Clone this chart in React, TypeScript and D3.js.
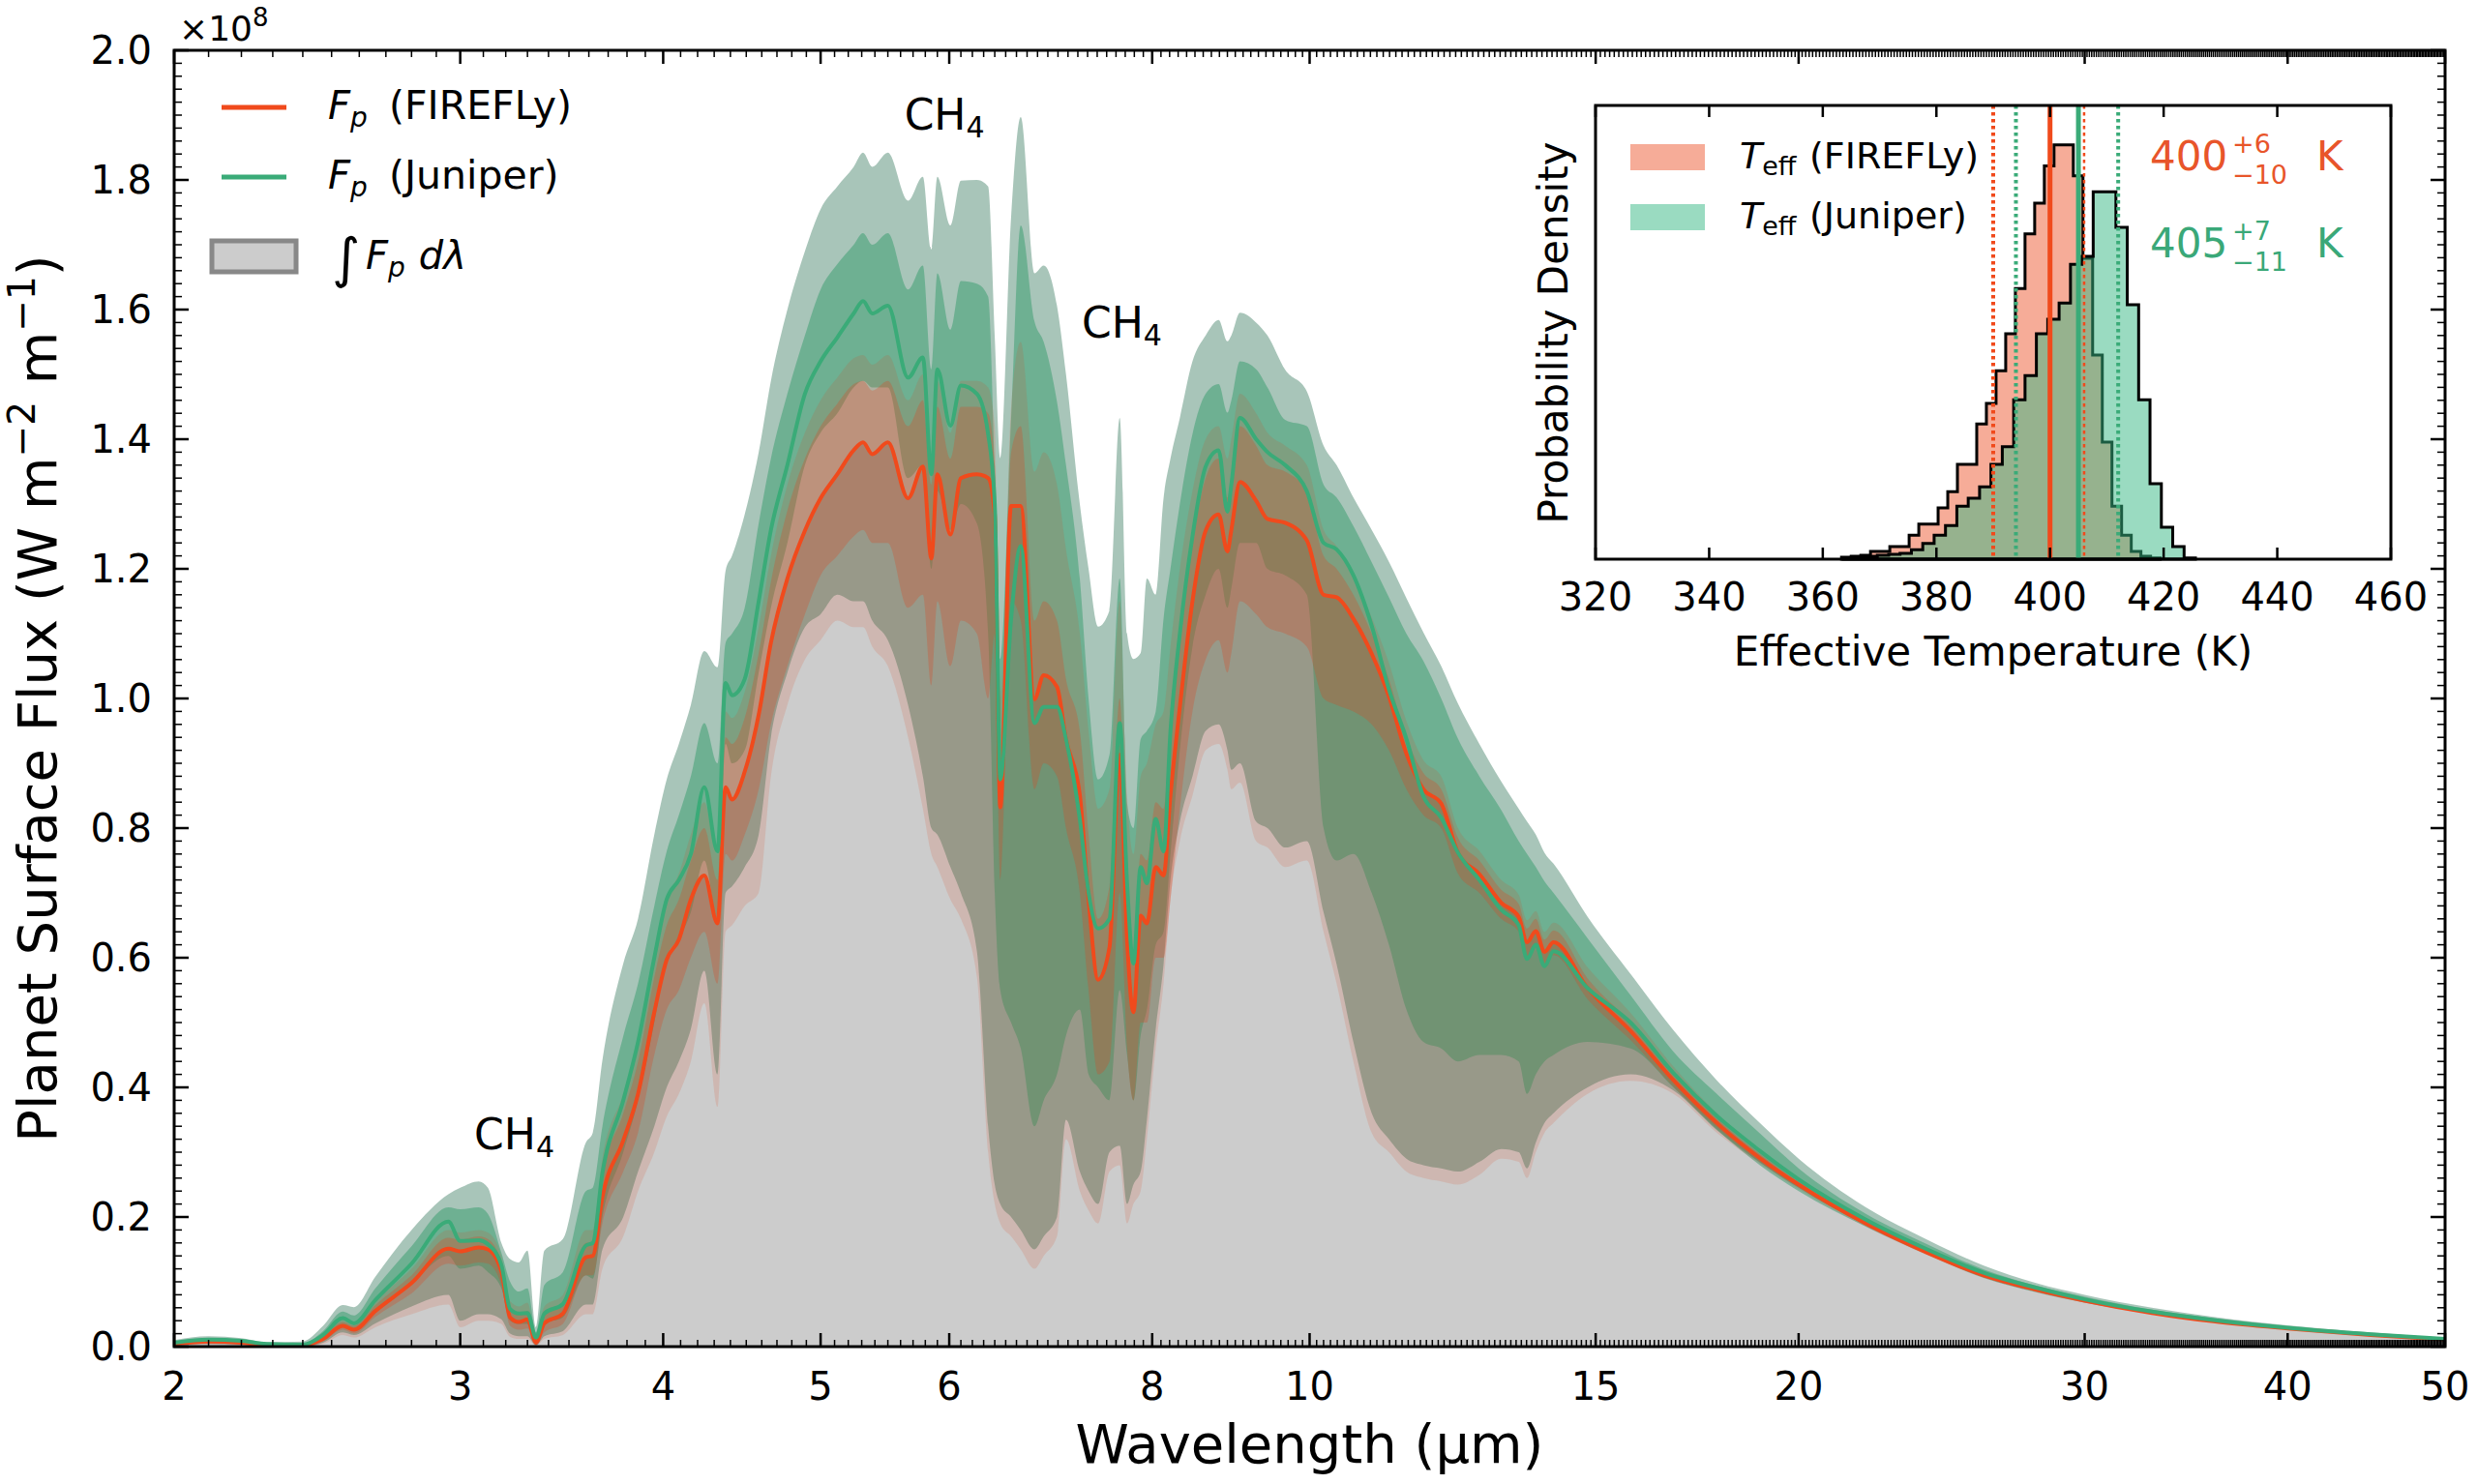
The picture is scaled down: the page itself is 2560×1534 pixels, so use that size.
import React, { useEffect } from "react";
import * as d3 from "d3";

// ---------- spectral data (flux in units of 1e8 W m^-2 m^-1) ----------
const wavelength = [
  2.0, 2.1, 2.2, 2.28, 2.4, 2.47, 2.54, 2.58, 2.66, 2.8,
  2.95, 3.0, 3.08, 3.12, 3.18, 3.22, 3.26, 3.3, 3.34, 3.38,
  3.47, 3.585, 3.62, 3.67, 3.78, 3.86, 3.95, 4.02, 4.09, 4.16,
  4.24, 4.32, 4.37, 4.41, 4.49, 4.58, 4.66, 4.77, 4.89, 5.0,
  5.12, 5.24, 5.31, 5.38, 5.5, 5.66, 5.78, 5.85, 5.9, 6.01,
  6.1, 6.24, 6.34, 6.4, 6.45, 6.55, 6.64, 6.77, 6.86, 6.99,
  7.08, 7.22, 7.31, 7.41, 7.53, 7.64, 7.72, 7.79, 7.87, 7.94,
  8.04, 8.13, 8.21, 8.32, 8.47, 8.63, 8.79, 8.9, 8.95, 9.06,
  9.27, 9.42, 9.66, 9.96, 10.2, 10.39, 10.64, 10.92, 11.19, 11.47,
  11.75, 12.05, 12.34, 12.72, 13.12, 13.45, 13.61, 13.78, 13.95, 14.13,
  14.83, 15.76, 16.75, 17.81, 18.93, 20, 22, 24, 26, 28,
  30, 33, 36, 40, 45, 50,
];

const fireflyMedian = [
  0.004, 0.008, 0.006, 0.002, 0.002, 0.012, 0.032, 0.026, 0.055, 0.098,
  0.151, 0.147, 0.153, 0.15, 0.116, 0.045, 0.038, 0.042, 0.006, 0.036,
  0.051, 0.138, 0.14, 0.231, 0.318, 0.39, 0.516, 0.597, 0.628, 0.69,
  0.727, 0.653, 0.863, 0.844, 0.887, 0.975, 1.086, 1.185, 1.259, 1.309,
  1.346, 1.383, 1.395, 1.377, 1.395, 1.309, 1.358, 1.216, 1.346, 1.253,
  1.34, 1.346, 1.34, 1.284, 0.832, 1.297, 1.297, 0.999, 1.036, 1.018,
  0.937, 0.851, 0.69, 0.566, 0.616, 0.913, 0.628, 0.516, 0.665, 0.653,
  0.74, 0.727, 0.851, 0.987, 1.15, 1.259, 1.284, 1.227, 1.26, 1.334,
  1.305, 1.277, 1.271, 1.244, 1.16, 1.156, 1.123, 1.069, 1.003, 0.915,
  0.86, 0.838, 0.762, 0.729, 0.685, 0.663, 0.624, 0.641, 0.609, 0.624,
  0.553, 0.487, 0.411, 0.345, 0.291, 0.25, 0.19, 0.145, 0.11, 0.088,
  0.071, 0.052, 0.039, 0.028, 0.018, 0.011,
];

const juniperMedian = [
  0.006, 0.011, 0.009, 0.004, 0.003, 0.018, 0.044, 0.036, 0.072, 0.128,
  0.193, 0.163, 0.164, 0.158, 0.126, 0.058, 0.051, 0.052, 0.014, 0.051,
  0.066, 0.156, 0.16, 0.268, 0.38, 0.47, 0.6, 0.69, 0.72, 0.76,
  0.863, 0.764, 1.024, 1.005, 1.03, 1.15, 1.26, 1.36, 1.47, 1.52,
  1.557, 1.594, 1.613, 1.594, 1.606, 1.495, 1.526, 1.346, 1.508, 1.421,
  1.483, 1.47, 1.408, 1.3, 0.875, 1.123, 1.235, 0.962, 0.987, 0.987,
  0.937, 0.814, 0.7, 0.645, 0.66, 0.962, 0.715, 0.591, 0.74, 0.715,
  0.814, 0.764, 0.95, 1.1, 1.25, 1.358, 1.383, 1.288, 1.33, 1.433,
  1.4, 1.38, 1.36, 1.32, 1.24, 1.23, 1.19, 1.112, 1.014, 0.938,
  0.849, 0.816, 0.762, 0.72, 0.674, 0.65, 0.598, 0.62, 0.587, 0.61,
  0.553, 0.5, 0.422, 0.356, 0.302, 0.258, 0.196, 0.15, 0.114, 0.091,
  0.073, 0.054, 0.041, 0.029, 0.019, 0.012,
];

// Juniper 2-sigma (outer) and 1-sigma (inner) envelopes
const juniperOuterHi = [
  0.01, 0.016, 0.013, 0.007, 0.008, 0.032, 0.064, 0.061, 0.108, 0.18,
  0.235, 0.245, 0.255, 0.245, 0.16, 0.135, 0.13, 0.148, 0.03, 0.148,
  0.166, 0.315, 0.33, 0.442, 0.591, 0.66, 0.79, 0.875, 0.93, 0.99,
  1.073, 1.048, 1.197, 1.22, 1.284, 1.38, 1.49, 1.6, 1.69, 1.755,
  1.79, 1.82, 1.842, 1.82, 1.842, 1.768, 1.805, 1.693, 1.805, 1.73,
  1.799, 1.8, 1.79, 1.557, 1.371, 1.743, 1.897, 1.656, 1.668, 1.606,
  1.5, 1.3, 1.2, 1.111, 1.136, 1.433, 1.1, 1.061, 1.07, 1.185,
  1.16, 1.309, 1.37, 1.433, 1.52, 1.56, 1.584, 1.551, 1.56, 1.595,
  1.58, 1.56, 1.507, 1.474, 1.39, 1.36, 1.31, 1.26, 1.211, 1.155,
  1.102, 1.05, 0.992, 0.93, 0.872, 0.83, 0.81, 0.79, 0.762, 0.745,
  0.663, 0.575, 0.488, 0.411, 0.345, 0.29, 0.215, 0.165, 0.125, 0.098,
  0.08, 0.06, 0.046, 0.033, 0.022, 0.013,
];

const juniperInnerHi = [
  0.008, 0.013, 0.011, 0.005, 0.005, 0.024, 0.054, 0.048, 0.09, 0.155,
  0.215, 0.212, 0.215, 0.205, 0.145, 0.1, 0.085, 0.09, 0.022, 0.095,
  0.115, 0.24, 0.245, 0.34, 0.479, 0.56, 0.68, 0.764, 0.82, 0.88,
  0.962, 0.9, 1.086, 1.1, 1.14, 1.27, 1.37, 1.47, 1.56, 1.631,
  1.67, 1.7, 1.718, 1.7, 1.718, 1.631, 1.668, 1.508, 1.656, 1.569,
  1.644, 1.64, 1.62, 1.359, 1.061, 1.433, 1.73, 1.582, 1.55, 1.458,
  1.36, 1.185, 1.0, 0.875, 0.913, 1.185, 0.838, 0.8, 0.937, 0.95,
  0.98, 1.123, 1.2, 1.3, 1.408, 1.47, 1.485, 1.441, 1.46, 1.52,
  1.508, 1.48, 1.43, 1.42, 1.33, 1.31, 1.266, 1.21, 1.156, 1.1,
  1.058, 1.0, 0.938, 0.88, 0.828, 0.78, 0.76, 0.74, 0.718, 0.7,
  0.63, 0.542, 0.455, 0.39, 0.329, 0.275, 0.205, 0.158, 0.119, 0.094,
  0.077, 0.057, 0.044, 0.031, 0.02, 0.0125,
];

const juniperInnerLo = [
  0.004, 0.008, 0.006, 0.002, 0.001, 0.012, 0.034, 0.028, 0.055, 0.098,
  0.14, 0.12, 0.125, 0.115, 0.09, 0.04, 0.035, 0.035, 0.006, 0.035,
  0.045, 0.11, 0.105, 0.2, 0.3, 0.38, 0.5, 0.6, 0.63, 0.67,
  0.75, 0.66, 0.93, 0.9, 0.92, 1.04, 1.14, 1.24, 1.36, 1.41,
  1.44, 1.48, 1.49, 1.48, 1.48, 1.34, 1.36, 1.2, 1.32, 1.26,
  1.3, 1.27, 1.1, 0.7, 0.55, 0.5, 0.46, 0.34, 0.38, 0.42,
  0.48, 0.52, 0.42, 0.4, 0.38, 0.55, 0.45, 0.38, 0.48, 0.52,
  0.62, 0.64, 0.76, 0.92, 1.08, 1.16, 1.2, 1.14, 1.17, 1.24,
  1.24, 1.2, 1.19, 1.16, 0.8, 0.75, 0.76, 0.7, 0.62, 0.52,
  0.47, 0.46, 0.44, 0.45, 0.45, 0.44, 0.39, 0.42, 0.44, 0.45,
  0.47, 0.46, 0.4, 0.335, 0.28, 0.24, 0.185, 0.142, 0.106, 0.084,
  0.068, 0.051, 0.039, 0.027, 0.017, 0.01,
];

const juniperOuterLo = [
  0.002, 0.004, 0.003, 0.001, 0.0, 0.006, 0.022, 0.018, 0.036, 0.062,
  0.08, 0.04, 0.05, 0.05, 0.042, 0.02, 0.016, 0.016, 0.002, 0.016,
  0.024, 0.065, 0.065, 0.15, 0.2, 0.27, 0.34, 0.4, 0.44, 0.49,
  0.58, 0.42, 0.7, 0.71, 0.74, 0.79, 0.94, 1.04, 1.11, 1.13,
  1.16, 1.15, 1.15, 1.12, 1.09, 0.99, 0.88, 0.8, 0.79, 0.74,
  0.7, 0.61, 0.34, 0.25, 0.22, 0.2, 0.18, 0.15, 0.17, 0.2,
  0.35, 0.27, 0.24, 0.22, 0.3, 0.31, 0.22, 0.25, 0.27, 0.35,
  0.49, 0.59, 0.72, 0.81, 0.88, 0.95, 0.96, 0.92, 0.89, 0.9,
  0.81, 0.8, 0.77, 0.78, 0.67, 0.59, 0.47, 0.36, 0.32, 0.29,
  0.28, 0.275, 0.27, 0.285, 0.305, 0.3, 0.275, 0.315, 0.345, 0.36,
  0.4, 0.42, 0.395, 0.334, 0.284, 0.245, 0.187, 0.143, 0.107, 0.085,
  0.069, 0.051, 0.039, 0.028, 0.018, 0.011,
];

// FIREFLy 1-sigma (inner) and 2-sigma (outer) envelopes
const fireflyInnerHi = [
  0.005, 0.01, 0.008, 0.003, 0.003, 0.016, 0.038, 0.032, 0.064, 0.11,
  0.168, 0.165, 0.17, 0.166, 0.13, 0.058, 0.05, 0.055, 0.012, 0.05,
  0.068, 0.16, 0.162, 0.265, 0.36, 0.44, 0.57, 0.65, 0.69, 0.75,
  0.8, 0.72, 0.94, 0.93, 0.97, 1.07, 1.18, 1.29, 1.37, 1.42,
  1.455, 1.485, 1.49, 1.475, 1.49, 1.42, 1.46, 1.33, 1.45, 1.37,
  1.45, 1.45, 1.44, 1.36, 0.93, 1.38, 1.42, 1.12, 1.15, 1.12,
  1.03, 0.95, 0.79, 0.66, 0.71, 1.0, 0.72, 0.61, 0.76, 0.75,
  0.84, 0.83, 0.95, 1.08, 1.24, 1.34, 1.37, 1.31, 1.34, 1.42,
  1.39, 1.36, 1.35, 1.32, 1.22, 1.2, 1.16, 1.1, 1.03, 0.94,
  0.885, 0.86, 0.785, 0.75, 0.705, 0.683, 0.645, 0.66, 0.628, 0.642,
  0.568, 0.5, 0.421, 0.352, 0.297, 0.254, 0.193, 0.147, 0.112, 0.089,
  0.072, 0.053, 0.04, 0.029, 0.019, 0.0115,
];

const fireflyInnerLo = [
  0.003, 0.006, 0.004, 0.001, 0.001, 0.008, 0.026, 0.02, 0.046, 0.082,
  0.128, 0.125, 0.13, 0.128, 0.095, 0.032, 0.026, 0.028, 0.003, 0.022,
  0.035, 0.11, 0.11, 0.19, 0.27, 0.33, 0.45, 0.52, 0.55, 0.6,
  0.64, 0.56, 0.76, 0.75, 0.79, 0.86, 0.96, 1.05, 1.13, 1.19,
  1.22, 1.25, 1.26, 1.24, 1.24, 1.14, 1.16, 1.02, 1.15, 1.05,
  1.12, 1.1, 1.0, 1.1, 0.72, 1.15, 1.12, 0.86, 0.9, 0.88,
  0.8, 0.7, 0.55, 0.42, 0.44, 0.7, 0.46, 0.38, 0.5, 0.5,
  0.6, 0.6, 0.69, 0.83, 0.98, 1.06, 1.09, 1.04, 1.07, 1.15,
  1.13, 1.11, 1.1, 1.08, 1.0, 0.99, 0.98, 0.96, 0.92, 0.86,
  0.82, 0.8, 0.73, 0.7, 0.66, 0.64, 0.6, 0.618, 0.588, 0.604,
  0.536, 0.473, 0.401, 0.338, 0.285, 0.246, 0.187, 0.143, 0.108, 0.087,
  0.07, 0.051, 0.038, 0.027, 0.017, 0.0105,
];

const fireflyOuterHi = [
  0.006, 0.011, 0.009, 0.004, 0.004, 0.019, 0.042, 0.036, 0.07, 0.12,
  0.18, 0.176, 0.18, 0.176, 0.14, 0.07, 0.062, 0.068, 0.016, 0.062,
  0.08, 0.18, 0.18, 0.29, 0.39, 0.47, 0.6, 0.69, 0.73, 0.79,
  0.84, 0.76, 0.98, 0.97, 1.01, 1.11, 1.22, 1.33, 1.41, 1.46,
  1.495, 1.525, 1.53, 1.515, 1.53, 1.46, 1.5, 1.37, 1.49, 1.41,
  1.49, 1.49, 1.48, 1.42, 1.0, 1.45, 1.55, 1.35, 1.38, 1.33,
  1.23, 1.1, 0.95, 0.83, 0.86, 1.15, 0.85, 0.76, 0.88, 0.9,
  0.96, 0.98, 1.08, 1.2, 1.32, 1.4, 1.42, 1.37, 1.4, 1.47,
  1.44, 1.41, 1.39, 1.36, 1.26, 1.235, 1.19, 1.125, 1.055, 0.965,
  0.905, 0.88, 0.8, 0.765, 0.72, 0.697, 0.658, 0.672, 0.64, 0.654,
  0.585, 0.515, 0.432, 0.36, 0.303, 0.259, 0.197, 0.15, 0.114, 0.091,
  0.073, 0.054, 0.041, 0.03, 0.019, 0.012,
];

const fireflyOuterLo = [
  0.001, 0.003, 0.002, 0.0, 0.0, 0.004, 0.018, 0.014, 0.03, 0.05,
  0.065, 0.03, 0.04, 0.04, 0.035, 0.015, 0.012, 0.012, 0.001, 0.012,
  0.018, 0.05, 0.05, 0.12, 0.17, 0.24, 0.3, 0.355, 0.39, 0.44,
  0.53, 0.37, 0.64, 0.65, 0.68, 0.7, 0.88, 0.99, 1.06, 1.09,
  1.12, 1.11, 1.11, 1.08, 1.05, 0.94, 0.83, 0.76, 0.74, 0.69,
  0.66, 0.57, 0.3, 0.22, 0.19, 0.17, 0.15, 0.12, 0.14, 0.17,
  0.32, 0.24, 0.21, 0.19, 0.27, 0.28, 0.19, 0.22, 0.24, 0.32,
  0.46, 0.56, 0.69, 0.78, 0.85, 0.92, 0.93, 0.89, 0.86, 0.87,
  0.78, 0.77, 0.74, 0.75, 0.64, 0.56, 0.44, 0.33, 0.3, 0.27,
  0.26, 0.255, 0.25, 0.265, 0.29, 0.285, 0.26, 0.3, 0.33, 0.345,
  0.39, 0.41, 0.39, 0.33, 0.282, 0.243, 0.185, 0.141, 0.106, 0.084,
  0.068, 0.05, 0.038, 0.027, 0.017, 0.01,
];

const xMajorTicks = [2, 3, 4, 5, 6, 8, 10, 15, 20, 30, 40, 50];
const yMajorTicks = [0, 0.2, 0.4, 0.6, 0.8, 1.0, 1.2, 1.4, 1.6, 1.8, 2.0];

// CH4 absorption labels (wavelength, flux of the text baseline)
const ch4Labels = [
  { wl: 3.06, v: 0.305 },
  { wl: 5.63, v: 1.878 },
  { wl: 7.24, v: 1.557 },
];

// ---------- effective temperature posteriors (probability density x 1e-3) ----------
const fireflyBinEdges = [
  363.3, 365.0, 366.7, 368.4, 370.1, 371.8, 373.5, 375.2, 376.9, 378.6,
  380.3, 382.0, 383.7, 385.4, 387.1, 388.8, 390.5, 392.2, 393.9, 395.6,
  397.3, 399.0, 400.7, 402.4, 404.1, 405.8, 407.5, 409.2, 410.9, 412.6,
  414.3, 416.0, 417.7, 419.4,
];
const fireflyDensity = [
  0.26, 0.39, 0.52, 1.03, 1.03, 1.68, 1.68, 3.19, 4.68, 4.68,
  6.84, 8.99, 12.65, 12.65, 18.03, 20.77, 25.12, 30.06, 36.09, 43.39,
  47.48, 52.43, 55.23, 55.23, 51.1, 40.13, 27.23, 15.61, 7.06, 3.19,
  1.03, 0.39, 0.17,
];
const juniperBinEdges = [
  363.6, 365.6, 367.6, 369.6, 371.6, 373.6, 375.6, 377.6, 379.6, 381.6,
  383.6, 385.6, 387.6, 389.6, 391.6, 393.6, 395.6, 397.6, 399.6, 401.6,
  403.6, 405.6, 407.6, 409.6, 411.6, 413.6, 415.6, 417.6, 419.6, 421.6,
  423.6, 425.6,
];
const juniperDensity = [
  0.13, 0.26, 0.39, 0.52, 0.65, 0.77, 1.25, 2.1, 3.19, 4.48,
  7.06, 8.13, 9.64, 12.65, 15.0, 21.25, 24.48, 30.06, 32.0, 34.15,
  39.32, 40.39, 48.99, 48.99, 44.26, 33.94, 21.25, 10.06, 4.26, 1.68,
  0.17,
];
const tempTicks = [320, 340, 360, 380, 400, 420, 440, 460];

const fireflyTeff = { median: 400, plus: 6, minus: 10 };
const juniperTeff = { median: 405, plus: 7, minus: 11 };

// ---------- colours ----------
const FIRE = "#f04a1c";
const JUNI = "#3aab78";
const JUNI_OUTER = "#3e7e63";
const JUNI_INNER = "#289664";
const FIRE_BAND = "#e0461c";
const FIRE_HIST = "#ee5a32";
const JUNI_HIST = "#35b884";
const FIRE_TEXT = "#e8552a";
const JUNI_TEXT = "#3aa878";
const FONT = "DejaVu Sans";

export default function App() {
  useEffect(() => {
    document.body.style.margin = "0";
  }, []);

  const W = 2560;
  const H = 1534;
  const L = 180;
  const R = 2527;
  const T = 52;
  const B = 1392;

  const x = d3.scaleLog().domain([2, 50]).range([L, R]);
  const y = d3.scaleLinear().domain([0, 2]).range([B, T]);
  const idx = wavelength.map((_, i) => i);

  const band = (lo: number[], hi: number[]) =>
    d3
      .area<number>()
      .x((i) => x(wavelength[i]))
      .y0((i) => y(lo[i]))
      .y1((i) => y(hi[i]))
      .curve(d3.curveMonotoneX)(idx) || "";
  const line = (v: number[]) =>
    d3
      .line<number>()
      .x((i) => x(wavelength[i]))
      .y((i) => y(v[i]))
      .curve(d3.curveMonotoneX)(idx) || "";
  const integratedArea =
    d3
      .area<number>()
      .x((i) => x(wavelength[i]))
      .y0(y(0))
      .y1((i) => y(fireflyMedian[i]))
      .curve(d3.curveMonotoneX)(idx) || "";

  const xMinor = d3
    .range(21, 500)
    .map((k) => k / 10)
    .filter((v) => !xMajorTicks.includes(v));
  const yMinor = d3
    .range(0, 101)
    .filter((k) => k % 10 !== 0)
    .map((k) => k * 0.02);

  // inset geometry
  const IL = 1649;
  const IR = 2471;
  const IT = 109;
  const IB = 578;
  const tx = d3.scaleLinear().domain([320, 460]).range([IL, IR]);
  const ty = d3.scaleLinear().domain([0, 60.5]).range([IB, IT]);
  const stepPath = (edges: number[], dens: number[]) => {
    let p = `M${tx(edges[0])},${ty(0)}`;
    dens.forEach((d, i) => {
      p += `L${tx(edges[i])},${ty(d)}L${tx(edges[i + 1])},${ty(d)}`;
    });
    p += `L${tx(edges[edges.length - 1])},${ty(0)}Z`;
    return p;
  };

  const vline = (t: number, color: string, width: number, dash?: string, key?: string) => (
    <line
      key={key}
      x1={tx(t)}
      x2={tx(t)}
      y1={IT}
      y2={IB}
      stroke={color}
      strokeWidth={width}
      strokeDasharray={dash}
    />
  );

  return (
    <svg
      width={W}
      height={H}
      viewBox={`0 0 ${W} ${H}`}
      style={{ position: "absolute", left: 0, top: 0, background: "#fff" }}
      fontFamily={FONT}
    >
      <defs>
        <clipPath id="plot-clip">
          <rect x={L} y={T} width={R - L} height={B - T} />
        </clipPath>
      </defs>
      <rect x={0} y={0} width={W} height={H} fill="#fff" />

      {/* spectra */}
      <g clipPath="url(#plot-clip)">
        <path d={integratedArea} fill="#cccccc" />
        <path d={band(juniperOuterLo, juniperOuterHi)} fill={JUNI_OUTER} fillOpacity={0.45} />
        <path d={band(juniperInnerLo, juniperInnerHi)} fill={JUNI_INNER} fillOpacity={0.45} />
        <path d={band(fireflyOuterLo, fireflyOuterHi)} fill={FIRE_BAND} fillOpacity={0.15} />
        <path d={band(fireflyInnerLo, fireflyInnerHi)} fill={FIRE_BAND} fillOpacity={0.28} />
        <path d={line(fireflyMedian)} fill="none" stroke={FIRE} strokeWidth={4} strokeLinejoin="round" />
        <path d={line(juniperMedian)} fill="none" stroke={JUNI} strokeWidth={4} strokeLinejoin="round" />
      </g>

      {/* CH4 labels */}
      {ch4Labels.map((c, i) => (
        <text key={i} x={x(c.wl)} y={y(c.v)} fontSize={44} fill="#000">
          CH
          <tspan fontSize={30} dy={8}>
            4
          </tspan>
        </text>
      ))}

      {/* legend */}
      <g>
        <line x1={229} x2={296} y1={111} y2={111} stroke={FIRE} strokeWidth={5} />
        <text x={339} y={123} fontSize={40}>
          <tspan fontStyle="italic">F</tspan>
          <tspan fontStyle="italic" fontSize={28} dy={8}>
            p
          </tspan>
        </text>
        <text x={402} y={123} fontSize={41}>
          (FIREFLy)
        </text>
        <line x1={229} x2={296} y1={183} y2={183} stroke={JUNI} strokeWidth={5} />
        <text x={339} y={195} fontSize={40}>
          <tspan fontStyle="italic">F</tspan>
          <tspan fontStyle="italic" fontSize={28} dy={8}>
            p
          </tspan>
        </text>
        <text x={402} y={195} fontSize={41}>
          (Juniper)
        </text>
        <rect x={219} y={249} width={87} height={32} fill="#cccccc" stroke="#888888" strokeWidth={5} />
        <text x={343} y={286} fontSize={56}>
          ∫
        </text>
        <text x={378} y={278} fontSize={40}>
          <tspan fontStyle="italic">F</tspan>
          <tspan fontStyle="italic" fontSize={28} dy={8}>
            p
          </tspan>
          <tspan fontStyle="italic" dy={-8} dx={14}>
            dλ
          </tspan>
        </text>
      </g>

      {/* inset: effective temperature posteriors */}
      <g>
        <rect x={IL} y={IT} width={IR - IL} height={IB - IT} fill="#fff" />
        <path d={stepPath(fireflyBinEdges, fireflyDensity)} fill={FIRE_HIST} fillOpacity={0.5} stroke="none" />
        <path d={stepPath(fireflyBinEdges, fireflyDensity)} fill="none" stroke="#000" strokeWidth={3} />
        <path d={stepPath(juniperBinEdges, juniperDensity)} fill={JUNI_HIST} fillOpacity={0.5} stroke="none" />
        <path d={stepPath(juniperBinEdges, juniperDensity)} fill="none" stroke="#000" strokeWidth={3} />

        {vline(fireflyTeff.median - fireflyTeff.minus, FIRE, 4, "3.5 3.5", "f-lo")}
        {vline(fireflyTeff.median + fireflyTeff.plus, FIRE, 2.5, "3.5 3.5", "f-hi")}
        {vline(juniperTeff.median - juniperTeff.minus, JUNI, 4, "3.5 3.5", "j-lo")}
        {vline(juniperTeff.median + juniperTeff.plus, JUNI, 4, "3.5 3.5", "j-hi")}
        {vline(fireflyTeff.median, FIRE, 5, undefined, "f-med")}
        {vline(juniperTeff.median, JUNI, 5, undefined, "j-med")}

        {tempTicks.map((t) => (
          <g key={t}>
            <line x1={tx(t)} x2={tx(t)} y1={IB} y2={IB - 12} stroke="#000" strokeWidth={2.5} />
            <line x1={tx(t)} x2={tx(t)} y1={IT} y2={IT + 12} stroke="#000" strokeWidth={2.5} />
            <text x={tx(t)} y={631} fontSize={40} textAnchor="middle">
              {t}
            </text>
          </g>
        ))}
        <rect x={IL} y={IT} width={IR - IL} height={IB - IT} fill="none" stroke="#000" strokeWidth={3} />

        <text x={(IL + IR) / 2} y={688} fontSize={42} textAnchor="middle">
          Effective Temperature (K)
        </text>
        <text x={1620} y={344} fontSize={42} textAnchor="middle" transform="rotate(-90, 1620, 344)">
          Probability Density
        </text>

        {/* inset legend */}
        <rect x={1685} y={149} width={77} height={27} fill={FIRE_HIST} fillOpacity={0.5} />
        <rect x={1685} y={211} width={77} height={27} fill={JUNI_HIST} fillOpacity={0.5} />
        <text x={1798} y={174} fontSize={38}>
          <tspan fontStyle="italic">T</tspan>
          <tspan fontSize={27} dy={7}>
            eff
          </tspan>
        </text>
        <text x={1870} y={174} fontSize={38}>
          (FIREFLy)
        </text>
        <text x={1798} y={236} fontSize={38}>
          <tspan fontStyle="italic">T</tspan>
          <tspan fontSize={27} dy={7}>
            eff
          </tspan>
        </text>
        <text x={1870} y={236} fontSize={38}>
          (Juniper)
        </text>

        {/* Teff annotations */}
        <g fill={FIRE_TEXT}>
          <text x={2222} y={176} fontSize={42}>
            {fireflyTeff.median}
          </text>
          <text x={2307} y={158} fontSize={27}>
            +{fireflyTeff.plus}
          </text>
          <text x={2307} y={190} fontSize={27}>
            −{fireflyTeff.minus}
          </text>
          <text x={2394} y={176} fontSize={42}>
            K
          </text>
        </g>
        <g fill={JUNI_TEXT}>
          <text x={2222} y={266} fontSize={42}>
            {juniperTeff.median}
          </text>
          <text x={2307} y={248} fontSize={27}>
            +{juniperTeff.plus}
          </text>
          <text x={2307} y={280} fontSize={27}>
            −{juniperTeff.minus}
          </text>
          <text x={2394} y={266} fontSize={42}>
            K
          </text>
        </g>
      </g>

      {/* main axes: ticks */}
      <g stroke="#000">
        {xMinor.map((v) => (
          <g key={`xm${v}`}>
            <line x1={x(v)} x2={x(v)} y1={B} y2={B - 7} strokeWidth={1.5} />
            <line x1={x(v)} x2={x(v)} y1={T} y2={T + 7} strokeWidth={1.5} />
          </g>
        ))}
        {xMajorTicks.map((v) => (
          <g key={`xM${v}`}>
            <line x1={x(v)} x2={x(v)} y1={B} y2={B - 14} strokeWidth={2.5} />
            <line x1={x(v)} x2={x(v)} y1={T} y2={T + 14} strokeWidth={2.5} />
          </g>
        ))}
        {yMinor.map((v) => (
          <g key={`ym${v}`}>
            <line x1={L} x2={L + 8} y1={y(v)} y2={y(v)} strokeWidth={1.5} />
            <line x1={R} x2={R - 8} y1={y(v)} y2={y(v)} strokeWidth={1.5} />
          </g>
        ))}
        {yMajorTicks.map((v) => (
          <g key={`yM${v}`}>
            <line x1={L} x2={L + 15} y1={y(v)} y2={y(v)} strokeWidth={2.5} />
            <line x1={R} x2={R - 15} y1={y(v)} y2={y(v)} strokeWidth={2.5} />
          </g>
        ))}
      </g>
      <rect x={L} y={T} width={R - L} height={B - T} fill="none" stroke="#000" strokeWidth={3} />

      {/* tick labels */}
      {xMajorTicks.map((v) => (
        <text key={`xl${v}`} x={x(v)} y={1447} fontSize={40} textAnchor="middle">
          {v}
        </text>
      ))}
      {yMajorTicks.map((v) => (
        <text key={`yl${v}`} x={157} y={y(v) + 14} fontSize={40} textAnchor="end">
          {v.toFixed(1)}
        </text>
      ))}
      <text x={185} y={42} fontSize={36}>
        ×10
        <tspan fontSize={26} dy={-15}>
          8
        </tspan>
      </text>

      {/* axis titles */}
      <text x={(L + R) / 2} y={1512} fontSize={56} textAnchor="middle">
        Wavelength (μm)
      </text>
      <text x={58} y={722} fontSize={56} textAnchor="middle" transform="rotate(-90, 58, 722)">
        Planet Surface Flux (W m
        <tspan fontSize={39} dy={-22}>
          −2
        </tspan>
        <tspan dy={22}> m</tspan>
        <tspan fontSize={39} dy={-22}>
          −1
        </tspan>
        <tspan dy={22}>)</tspan>
      </text>
    </svg>
  );
}
